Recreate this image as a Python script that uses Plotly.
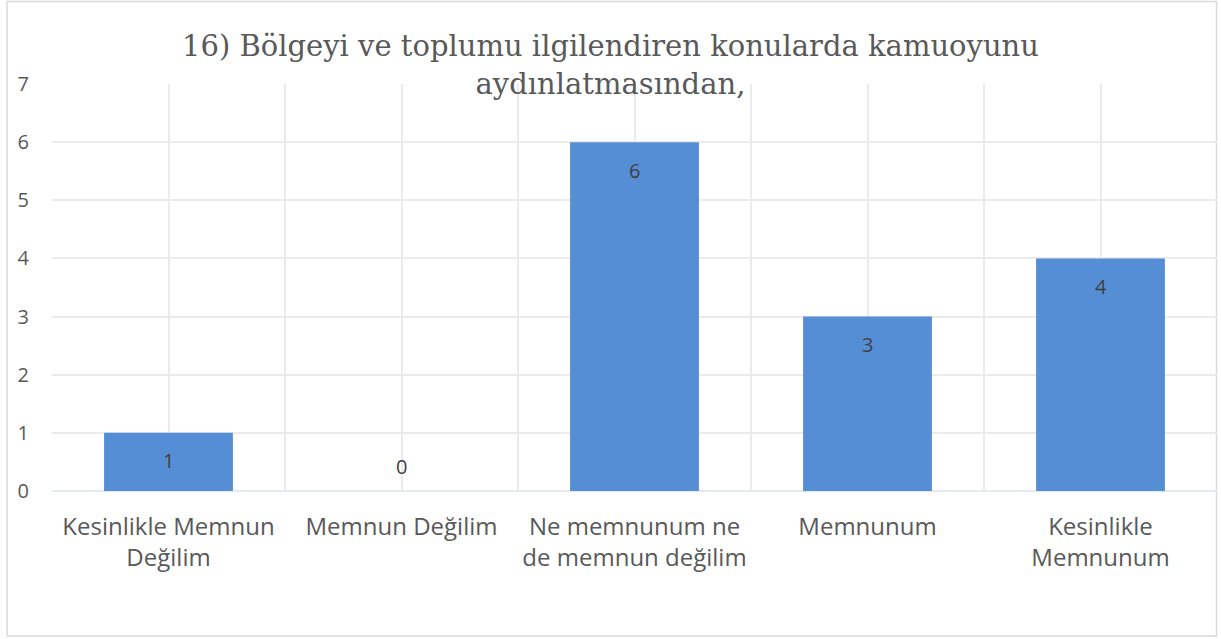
import plotly.graph_objects as go

categories = ["Kesinlikle Memnun<br>Değilim", "Memnun Değilim", "Ne memnunum ne<br>de memnun değilim",
              "Memnunum", "Kesinlikle<br>Memnunum"]
values = [1, 0, 6, 3, 4]
title_text = "16) Bölgeyi ve toplumu ilgilendiren konularda kamuoyunu<br>aydınlatmasından,"
y_ticks = [0, 1, 2, 3, 4, 5, 6, 7]

W, H = 1221, 639
L, R, T, B = 52, 4, 84, 148
pw, ph = W - L - R, H - T - B

xs = list(range(len(categories)))

fig = go.Figure()
fig.add_trace(go.Bar(
    x=xs, y=values, width=0.553, marker=dict(color="#558ED5", line=dict(width=0)),
    hoverinfo="skip"
))

for x, v in zip(xs, values):
    fig.add_annotation(x=x, y=v, text=str(v), showarrow=False,
                       yshift=-28 if v > 0 else 25,
                       font=dict(family="Open Sans", size=20, color="#404040"))

# pixel -> paper helpers
def px_x(p):
    return (p - L) / pw
def px_y(p):
    return (H - B - p) / ph

# border around the chart area
fig.add_shape(type="rect", xref="paper", yref="paper",
              x0=px_x(7), x1=px_x(1216.5), y0=px_y(636), y1=px_y(1.5),
              line=dict(color="#D9D9D9", width=1.5), fillcolor="rgba(0,0,0,0)", layer="below")

# title
fig.add_annotation(text=title_text, xref="paper", yref="paper",
                   x=px_x(610.5), y=px_y(65), xanchor="center", yanchor="middle",
                   showarrow=False, align="center",
                   font=dict(family="DejaVu Serif", size=29, color="#595959"))

fig.update_layout(
    width=W, height=H,
    margin=dict(l=L, r=R, t=T, b=B),
    paper_bgcolor="white", plot_bgcolor="white",
    showlegend=False,
    xaxis=dict(
        range=[-0.5, len(categories) - 0.5],
        tickvals=xs, ticktext=categories,
        showgrid=True, gridcolor="#EBEBEB", gridwidth=1.5,
        minor=dict(tickvals=[i - 0.5 for i in range(len(categories) + 1)],
                   showgrid=True, gridcolor="#EBEBEB", gridwidth=1.5),
        showline=False, zeroline=False, ticks="",
        ticklabelstandoff=19,
        tickfont=dict(family="Open Sans", size=24, color="#595959"),
    ),
    yaxis=dict(
        range=[0, 7], tickvals=y_ticks,
        showgrid=True, gridcolor="#EBEBEB", gridwidth=1.5,
        zeroline=True, zerolinecolor="#E4EAF2", zerolinewidth=1.5,
        showline=False, ticks="",
        ticklabelstandoff=22,
        tickfont=dict(family="Open Sans", size=20, color="#595959"),
    ),
)

fig.write_html("out.html", config={"displayModeBar": False},
               post_script="document.body.style.margin='0';document.body.style.overflow='hidden';")
